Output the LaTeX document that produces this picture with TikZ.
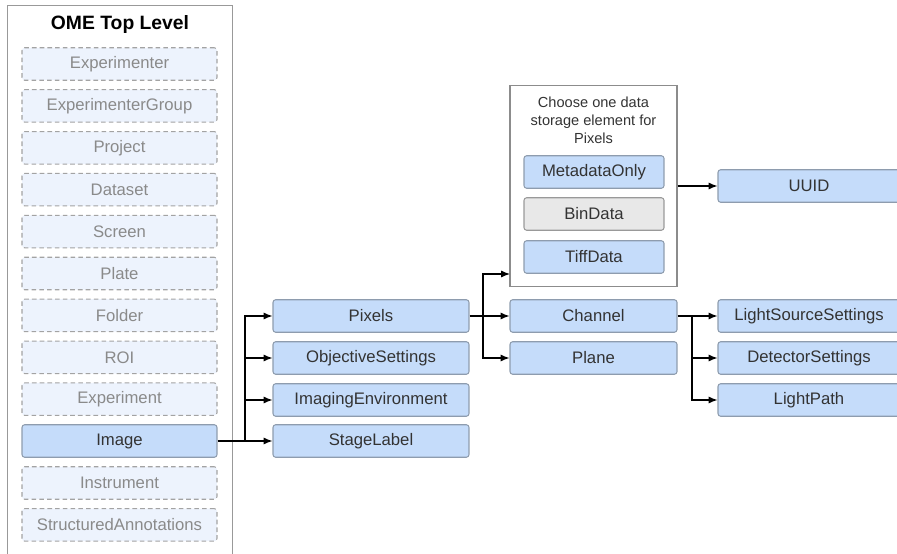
\documentclass[tikz,border=0pt]{standalone}
\usepackage{fontspec}
\setmainfont{Liberation Sans}
\usetikzlibrary{arrows.meta}

\definecolor{boxblue}{HTML}{C5DCFA}
\definecolor{boxedge}{HTML}{8E9CAE}
\definecolor{paleblue}{HTML}{EDF3FD}
\definecolor{dashedge}{HTML}{A3A3A3}
\definecolor{fadetext}{HTML}{8A8A8A}
\definecolor{bingray}{HTML}{E8E8E8}

\begin{document}
\begin{tikzpicture}[x=0.02cm, y=-0.02cm,
        elem/.style={draw=boxedge, fill=boxblue, line width=0.6pt, rounded corners=1.5pt,
            minimum height=0.65cm, text=black!80, font=\fontsize{9.5}{11}\selectfont, inner sep=0pt},
        topbox/.style={draw=dashedge, fill=paleblue, line width=0.6pt, rounded corners=1.5pt,
            dash pattern=on 2.6pt off 1.8pt, minimum width=3.9cm, minimum height=0.65cm,
            text=fadetext, font=\fontsize{9.5}{11}\selectfont, inner sep=0pt},
        arr/.style={-{Latex[length=5pt, width=4pt]}, line width=0.7pt},
        link/.style={line width=0.7pt}]
        \useasboundingbox (0, 0) rectangle (897, 554);
        \clip (0, 0) rectangle (897, 554);

        % top level column
        \node[draw=black!40, line width=0.7pt, minimum width=4.5cm, minimum height=11.4cm,
            inner sep=0pt, anchor=north west] (toplevel) at (7, 5) {};
        \node[font=\fontsize{11}{13}\bfseries] (title) at (120, 25) {OME Top Level};
        \foreach \i/\txt in {1/Experimenter, 2/ExperimenterGroup, 3/Project, 4/Dataset,
                5/Screen, 6/Plate, 7/Folder, 8/ROI, 9/Experiment, 11/Instrument,
                12/StructuredAnnotations}
            \node[topbox] (top\i) at (119.5, {22.1+41.9*\i}) {\txt};
        \node[elem, minimum width=3.9cm] (image) at (119.5, 441) {Image};

        % image children
        \node[elem, minimum width=3.92cm] (pixels) at (371, 316) {Pixels};
        \node[elem, minimum width=3.92cm] (objective) at (371, 358) {ObjectiveSettings};
        \node[elem, minimum width=3.92cm] (imaging) at (371, 400) {ImagingEnvironment};
        \node[elem, minimum width=3.92cm] (stage) at (371, 441) {StageLabel};

        % pixels data storage
        \node[draw=black!45, line width=0.6pt, minimum width=3.34cm, minimum height=4.02cm,
            inner sep=0pt] (storage) at (593.5, 186) {};
        \node[align=center, text=black!80, font=\fontsize{8.3}{10.2}\selectfont] (choose) at (593.5, 120)
            {Choose one data\\storage element for\\Pixels};
        \node[elem, minimum width=2.8cm] (metadata) at (594, 172) {MetadataOnly};
        \node[elem, minimum width=2.8cm, fill=bingray, draw=black!40] (bindata) at (594, 214) {BinData};
        \node[elem, minimum width=2.8cm] (tiffdata) at (594, 257) {TiffData};
        \node[elem, minimum width=3.34cm] (channel) at (593.5, 316) {Channel};
        \node[elem, minimum width=3.34cm] (plane) at (593.5, 358) {Plane};

        % right column
        \node[elem, minimum width=3.64cm] (uuid) at (809, 186) {UUID};
        \node[elem, minimum width=3.64cm] (lightsource) at (809, 316) {LightSourceSettings};
        \node[elem, minimum width=3.64cm] (detector) at (809, 358) {DetectorSettings};
        \node[elem, minimum width=3.64cm] (lightpath) at (809, 400) {LightPath};

        % connectors
        \coordinate (image split) at (245, 441);
        \coordinate (pixels split) at (483, 316);
        \coordinate (storage in) at (510, 274);
        \coordinate (channel split) at (692, 316);

        \draw[link] (image.east) -- (image split);
        \draw[arr] (image split) |- (pixels.west);
        \draw[arr] (image split) |- (objective.west);
        \draw[arr] (image split) |- (imaging.west);
        \draw[arr] (image split) -- (stage.west);

        \draw[link] (pixels.east) -- (pixels split);
        \draw[arr] (pixels split) |- (storage in);
        \draw[arr] (pixels split) -- (channel.west);
        \draw[arr] (pixels split) |- (plane.west);

        \draw[arr] (storage.east) -- (uuid.west);

        \draw[link] (channel.east) -- (channel split);
        \draw[arr] (channel split) -- (lightsource.west);
        \draw[arr] (channel split) |- (detector.west);
        \draw[arr] (channel split) |- (lightpath.west);
\end{tikzpicture}
\end{document}
